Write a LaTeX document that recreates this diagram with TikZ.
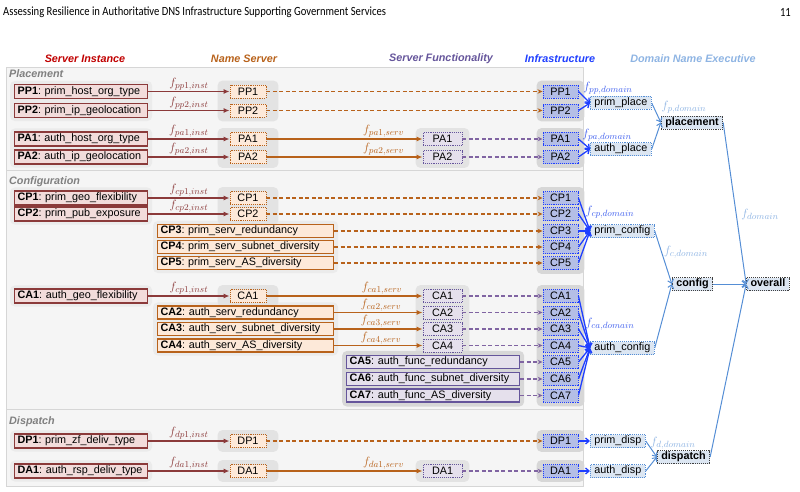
\documentclass[tikz,border=0pt]{standalone}
\usepackage{fontspec}
\setmainfont{Liberation Sans}
\newfontfamily\runfont{Carlito}
\usepackage{tikz}
\usetikzlibrary{arrows.meta,positioning,fit,backgrounds}
\definecolor{instline}{HTML}{8B3A3A}
\definecolor{instfill}{HTML}{F2DCDB}
\definecolor{instred}{HTML}{C00000}
\definecolor{rust}{HTML}{B8621B}
\definecolor{nsfill}{HTML}{FDE9D9}
\definecolor{plum}{HTML}{65559B}
\definecolor{lilac}{HTML}{8064A2}
\definecolor{sffill}{HTML}{E5E0EC}
\definecolor{infblue}{HTML}{1F3FFF}
\definecolor{inffill}{HTML}{B4BEE6}
\definecolor{fblue}{HTML}{3F5FEE}
\definecolor{skyb}{HTML}{558ED5}
\definecolor{paleb}{HTML}{8EB4E3}
\definecolor{execfill}{HTML}{DCE6F2}
\definecolor{panelfill}{HTML}{F5F5F5}
\definecolor{panelline}{HTML}{D6D6D6}
\definecolor{grplite}{HTML}{EBEBEB}
\definecolor{grpmid}{HTML}{E3E3E3}
\definecolor{grpdark}{HTML}{D7D7D7}
\definecolor{titlegray}{HTML}{808080}
\newcommand{\fs}{\fontsize{10.8}{12}\selectfont}
\newcommand{\fl}{\fontsize{12.5}{14}\selectfont}
\frenchspacing

\begin{document}
\begin{tikzpicture}[
  x=1pt,y=-1pt,
  every node/.style={font=\fs},
  cell/.style={inner xsep=3pt,inner ysep=0pt,minimum height=13pt,text height=7.8pt,text depth=2.3pt,align=left,line width=1.2pt},
  inst/.style={cell,draw=instline,fill=instfill,text width=127pt,minimum height=14pt},
  nsrow/.style={cell,draw=rust,fill=nsfill,text width=170pt},
  sfrow/.style={cell,draw=plum,fill=sffill,text width=167pt},
  ns/.style={draw=rust,fill=nsfill,densely dotted,line width=0.9pt,minimum width=36pt,minimum height=13pt,text height=7.8pt,text depth=0.5pt,inner sep=0pt},
  sf/.style={ns,draw=plum,fill=sffill,minimum width=39pt},
  infra/.style={ns,draw=infblue,fill=inffill,minimum width=35pt},
  exec/.style={draw=skyb,fill=execfill,densely dotted,line width=0.9pt,minimum height=13pt,text height=7.8pt,text depth=2.3pt,inner xsep=4pt,inner ysep=0pt},
  agg/.style={exec,draw=black!75,font=\fs\bfseries},
  grouplite/.style={fill=grplite,rounded corners=5pt,inner xsep=4pt,inner ysep=3pt},
  groupmid/.style={fill=grpmid,rounded corners=5pt,inner xsep=12pt,inner ysep=4pt},
  groupdark/.style={fill=grpdark,rounded corners=5pt,inner xsep=6pt,inner ysep=4pt},
  panel/.style={fill=panelfill,draw=panelline,line width=0.8pt},
  head/.style={font=\fs\bfseries\itshape},
  feed/.style={instline,line width=1.3pt,-{Latex[length=6pt,width=5pt]}},
  serv/.style={rust,line width=1.3pt,-{Latex[length=6pt,width=5pt]}},
  pass/.style={rust,line width=1.4pt,dash pattern=on 4pt off 2.5pt,-{Stealth[length=5pt,width=4.5pt]}},
  passsf/.style={pass,lilac},
  merge/.style={infblue,line width=1.3pt,-{Straight Barb[length=3.5pt,width=6pt]}},
  roll/.style={skyb,line width=1pt,-{Straight Barb[length=3.5pt,width=6pt]}},
  flab/.style={above,inner sep=1pt,font=\fl},
  fdom/.style={font=\fl,inner sep=0pt}
]
\useasboundingbox (0,0) rectangle (800,492);
\node[anchor=west,inner sep=0pt,font=\runfont\fontsize{12.5}{14}\selectfont] (rh) at (3,12) {\scalebox{0.85}[1]{Assessing Resilience in Authoritative DNS Infrastructure Supporting Government Services}};
\node[anchor=east,inner sep=0pt,font=\runfont\fontsize{12.5}{14}\selectfont] (pg) at (791,12) {\scalebox{0.85}[1]{11}};

\node[head,text=instred] (h1) at (85,59) {Server Instance};
\node[head,text=rust] (h2) at (244,59) {Name Server};
\node[head,text=plum] (h3) at (441,59) {Server Functionality};
\node[head,text=infblue] (h4) at (560,59) {Infrastructure};
\node[head,text=paleb] (h5) at (693,59) {Domain Name Executive};

\node[head,text=titlegray,anchor=west,inner sep=0pt] (t1) at (9,74) {Placement};
\node[head,text=titlegray,anchor=west,inner sep=0pt] (t2) at (9,182) {Configuration};
\node[head,text=titlegray,anchor=west,inner sep=0pt] (t3) at (9,422) {Dispatch};

\node[inst,anchor=west] (iPP1) at (14,91.5) {\textbf{PP1}: prim\_host\_org\_type};
\node[inst,anchor=west] (iPP2) at (14,110.5) {\textbf{PP2}: prim\_ip\_geolocation};
\node[inst,anchor=west] (iPA1) at (14,139) {\textbf{PA1}: auth\_host\_org\_type};
\node[inst,anchor=west] (iPA2) at (14,157) {\textbf{PA2}: auth\_ip\_geolocation};
\node[inst,anchor=west] (iCP1) at (14,198) {\textbf{CP1}: prim\_geo\_flexibility};
\node[inst,anchor=west] (iCP2) at (14,214) {\textbf{CP2}: prim\_pub\_exposure};
\node[inst,anchor=west] (iCA1) at (14,296) {\textbf{CA1}: auth\_geo\_flexibility};
\node[inst,anchor=west] (iDP1) at (14,441) {\textbf{DP1}: prim\_zf\_deliv\_type};
\node[inst,anchor=west] (iDA1) at (14,471) {\textbf{DA1}: auth\_rsp\_deliv\_type};

\node[nsrow,anchor=west] (nCP3) at (157,231) {\textbf{CP3}: prim\_serv\_redundancy};
\node[nsrow,anchor=west] (nCP4) at (157,247) {\textbf{CP4}: prim\_serv\_subnet\_diversity};
\node[nsrow,anchor=west] (nCP5) at (157,263) {\textbf{CP5}: prim\_serv\_AS\_diversity};
\node[nsrow,anchor=west] (nCA2) at (157,312.5) {\textbf{CA2}: auth\_serv\_redundancy};
\node[nsrow,anchor=west] (nCA3) at (157,329) {\textbf{CA3}: auth\_serv\_subnet\_diversity};
\node[nsrow,anchor=west] (nCA4) at (157,345.5) {\textbf{CA4}: auth\_serv\_AS\_diversity};
\node[sfrow,anchor=west] (sCA5) at (346,362) {\textbf{CA5}: auth\_func\_redundancy};
\node[sfrow,anchor=west] (sCA6) at (346,379) {\textbf{CA6}: auth\_func\_subnet\_diversity};
\node[sfrow,anchor=west] (sCA7) at (346,395.5) {\textbf{CA7}: auth\_func\_AS\_diversity};

\node[ns] (nPP1) at (248,91.5) {PP1};
\node[ns] (nPP2) at (248,110.5) {PP2};
\node[ns] (nPA1) at (248,139) {PA1};
\node[ns] (nPA2) at (248,157) {PA2};
\node[ns] (nCP1) at (248,198) {CP1};
\node[ns] (nCP2) at (248,214) {CP2};
\node[ns] (nCA1) at (248,296) {CA1};
\node[ns] (nDP1) at (248,441) {DP1};
\node[ns] (nDA1) at (248,471) {DA1};

\node[sf] (sPA1) at (442.5,139) {PA1};
\node[sf] (sPA2) at (442.5,157) {PA2};
\node[sf] (sCA1) at (442.5,296) {CA1};
\node[sf] (sCA2) at (442.5,312.5) {CA2};
\node[sf] (sCA3) at (442.5,329) {CA3};
\node[sf] (sCA4) at (442.5,345.5) {CA4};
\node[sf] (sDA1) at (442.5,471) {DA1};

\node[infra] (xPP1) at (560.5,91.5) {PP1};
\node[infra] (xPP2) at (560.5,110.5) {PP2};
\node[infra] (xPA1) at (560.5,139) {PA1};
\node[infra] (xPA2) at (560.5,157) {PA2};
\node[infra] (xCP1) at (560.5,198) {CP1};
\node[infra] (xCP2) at (560.5,214) {CP2};
\node[infra] (xCP3) at (560.5,231) {CP3};
\node[infra] (xCP4) at (560.5,247) {CP4};
\node[infra] (xCP5) at (560.5,263) {CP5};
\node[infra] (xCA1) at (560.5,296) {CA1};
\node[infra] (xCA2) at (560.5,312.5) {CA2};
\node[infra] (xCA3) at (560.5,329) {CA3};
\node[infra] (xCA4) at (560.5,345.5) {CA4};
\node[infra] (xCA5) at (560.5,362) {CA5};
\node[infra] (xCA6) at (560.5,379) {CA6};
\node[infra] (xCA7) at (560.5,395.5) {CA7};
\node[infra] (xDP1) at (560.5,441) {DP1};
\node[infra] (xDA1) at (560.5,471) {DA1};

\node[exec,anchor=west] (pplace) at (590,103) {prim\_place};
\node[exec,anchor=west] (aplace) at (590,149) {auth\_place};
\node[exec,anchor=west] (pconf) at (590,231) {prim\_config};
\node[exec,anchor=west] (aconf) at (590,348) {auth\_config};
\node[exec,anchor=west] (pdisp) at (590,441) {prim\_disp};
\node[exec,anchor=west] (adisp) at (590,471) {auth\_disp};
\node[agg] (placement) at (692,122.5) {placement};
\node[agg] (config) at (692.5,284) {config};
\node[agg] (dispatch) at (683.5,457) {dispatch};
\node[agg] (overall) at (768,284) {overall};

\node[fdom,text=fblue] (fpp) at (608,88) {$f_{pp,domain}$};
\node[fdom,text=fblue] (fpa) at (607,135) {$f_{pa,domain}$};
\node[fdom,text=fblue] (fcp) at (610,212) {$f_{cp,domain}$};
\node[fdom,text=fblue] (fca) at (610,324) {$f_{ca,domain}$};
\node[fdom,text=paleb] (fp) at (684,107) {$f_{p,domain}$};
\node[fdom,text=paleb] (fc) at (686,252) {$f_{c,domain}$};
\node[fdom,text=paleb] (fd) at (673,443) {$f_{d,domain}$};
\node[fdom,text=paleb] (fdom) at (760,214) {$f_{domain}$};

\begin{scope}[on background layer]
  \draw[panel] (6,67) rectangle (583,170);
  \draw[panel] (6,170) rectangle (583,409);
  \draw[panel] (6,409) rectangle (583,486);
  \node[grouplite,fit=(iPP1)(iPP2)] (g1) {};
  \node[grouplite,fit=(iPA1)(iPA2)] (g2) {};
  \node[grouplite,fit=(iCP1)(iCP2)] (g3) {};
  \node[grouplite,fit=(iCA1)] (g4) {};
  \node[grouplite,fit=(iDP1)] (g5) {};
  \node[grouplite,fit=(iDA1)] (g6) {};
  \node[grouplite,fit=(nCP3)(nCP5)] (g7) {};
  \node[grouplite,fit=(nCA2)(nCA4)] (g8) {};
  \node[groupmid,fit=(nPP1)(nPP2)] (g9) {};
  \node[groupmid,fit=(nPA1)(nPA2)] (g10) {};
  \node[groupmid,fit=(nCP1)(nCP2)] (g11) {};
  \node[groupmid,fit=(nCA1)] (g12) {};
  \node[groupmid,fit=(nDP1)] (g13) {};
  \node[groupmid,fit=(nDA1)] (g14) {};
  \node[groupmid,inner xsep=7pt,fit=(sPA1)(sPA2)] (g15) {};
  \node[groupmid,inner xsep=7pt,fit=(sCA1)(sCA4)] (g16) {};
  \node[groupmid,inner xsep=7pt,fit=(sDA1)] (g17) {};
  \node[groupdark,inner xsep=4pt,fit=(sCA5)(sCA7)] (g18) {};
  \node[groupdark,fit=(xPP1)(xPP2)] (g19) {};
  \node[groupdark,fit=(xPA1)(xPA2)] (g20) {};
  \node[groupdark,fit=(xCP1)(xCP5)] (g21) {};
  \node[groupdark,fit=(xCA1)(xCA7)] (g22) {};
  \node[groupdark,fit=(xDP1)] (g23) {};
  \node[groupdark,fit=(xDA1)] (g24) {};
\end{scope}

\draw[feed] (iPP1) -- node[flab]{$f_{pp1,inst}$} (nPP1);
\draw[feed] (iPP2) -- node[flab]{$f_{pp2,inst}$} (nPP2);
\draw[feed] (iPA1) -- node[flab]{$f_{pa1,inst}$} (nPA1);
\draw[feed] (iPA2) -- node[flab]{$f_{pa2,inst}$} (nPA2);
\draw[feed] (iCP1) -- node[flab]{$f_{cp1,inst}$} (nCP1);
\draw[feed] (iCP2) -- node[flab]{$f_{cp2,inst}$} (nCP2);
\draw[feed] (iCA1) -- node[flab]{$f_{cp1,inst}$} (nCA1);
\draw[feed] (iDP1) -- node[flab]{$f_{dp1,inst}$} (nDP1);
\draw[feed] (iDA1) -- node[flab]{$f_{da1,inst}$} (nDA1);

\draw[serv] (nPA1) -- node[flab,pos=0.75]{$f_{pa1,serv}$} (sPA1);
\draw[serv] (nPA2) -- node[flab,pos=0.75]{$f_{pa2,serv}$} (sPA2);
\draw[serv] (nCA1) -- node[flab,pos=0.74]{$f_{ca1,serv}$} (sCA1);
\draw[serv] (nCA2) -- node[flab,pos=0.53]{$f_{ca2,serv}$} (sCA2);
\draw[serv] (nCA3) -- node[flab,pos=0.53]{$f_{ca3,serv}$} (sCA3);
\draw[serv] (nCA4) -- node[flab,pos=0.53]{$f_{ca4,serv}$} (sCA4);
\draw[serv] (nDA1) -- node[flab,pos=0.75]{$f_{da1,serv}$} (sDA1);

\foreach \r in {PP1,PP2,CP1,CP2,CP3,CP4,CP5,DP1}
  \draw[pass] (n\r) -- (x\r);
\foreach \r in {PA1,PA2,CA1,CA2,CA3,CA4,CA5,CA6,CA7,DA1}
  \draw[passsf] (s\r) -- (x\r);

\foreach \r in {PP1,PP2}
  \draw[merge] (x\r.east) -- (pplace.west);
\foreach \r in {PA1,PA2}
  \draw[merge] (x\r.east) -- (aplace.west);
\foreach \r in {CP1,CP2,CP3,CP4,CP5}
  \draw[merge] (x\r.east) -- (pconf.west);
\foreach \r in {CA1,CA2,CA3,CA4,CA5,CA6,CA7}
  \draw[merge] (x\r.east) -- (aconf.west);
\draw[merge] (xDP1) -- (pdisp);
\draw[merge] (xDA1) -- (adisp);

\draw[roll] (pplace.east) -- (placement.west);
\draw[roll] (aplace.east) -- (placement.west);
\draw[roll] (pconf.east) -- (config.west);
\draw[roll] (aconf.east) -- (config.west);
\draw[roll] (pdisp.east) -- (dispatch.west);
\draw[roll] (adisp.east) -- (dispatch.west);
\draw[roll] (placement.east) -- (overall.west);
\draw[roll] (config) -- (overall);
\draw[roll] (dispatch.east) -- (overall.west);
\end{tikzpicture}
\end{document}
